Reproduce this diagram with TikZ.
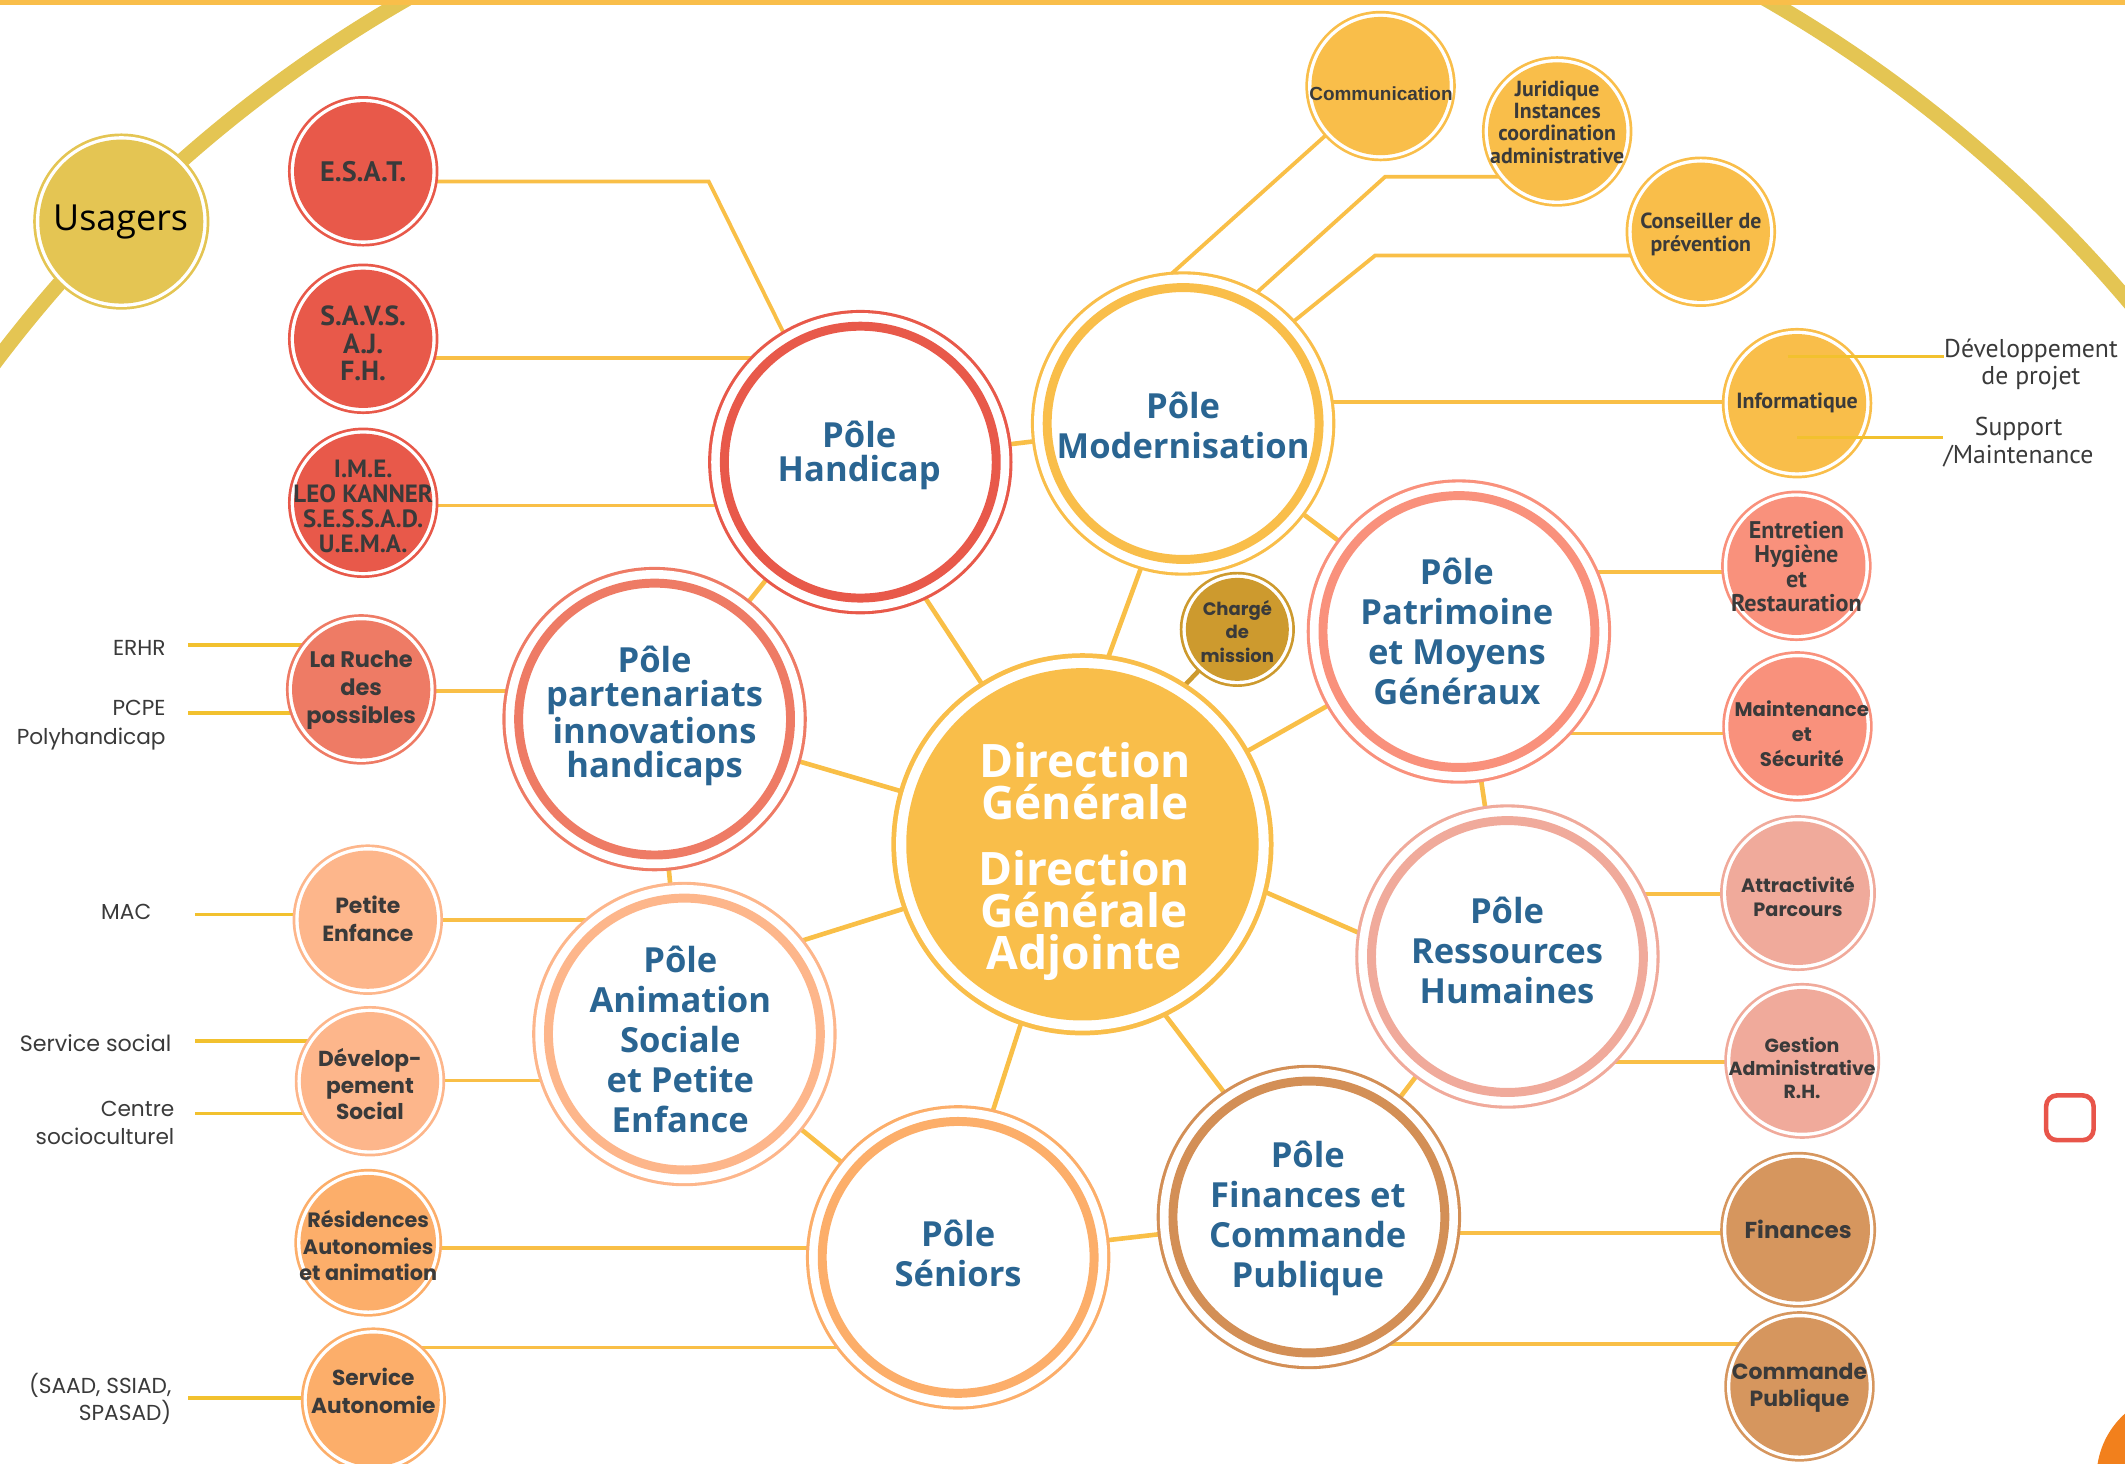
\documentclass[tikz,border=0pt]{standalone}
\usepackage{fontspec}
\usepackage{tikz}
\usetikzlibrary{backgrounds}
\setmainfont{Open Sans}
\newfontfamily\opensans{Open Sans}
\newfontfamily\popfont{Poppins}
\newfontfamily\ptfont{PT Sans}
\newfontfamily\arialfont{Liberation Sans}

\definecolor{linkyel}{HTML}{F9BF47}
\definecolor{labyel}{HTML}{F2C12E}
\definecolor{arcyel}{HTML}{E4C553}
\definecolor{modyel}{HTML}{F9BE4A}
\definecolor{hndred}{HTML}{E8594A}
\definecolor{partred}{HTML}{EE7B65}
\definecolor{animpch}{HTML}{FDB68B}
\definecolor{senorg}{HTML}{FCAE6A}
\definecolor{patsal}{HTML}{F9917C}
\definecolor{rhpink}{HTML}{F0AA9B}
\definecolor{fintan}{HTML}{D38F56}
\definecolor{finleaf}{HTML}{D6965E}
\definecolor{chargebrown}{HTML}{CD9A2E}
\definecolor{poleblue}{HTML}{2A6592}
\definecolor{txtgrey}{HTML}{3A3A3A}
\definecolor{boxred}{HTML}{E8554A}
\definecolor{blob}{HTML}{F2801C}

\tikzset{
  pole/.style={circle, inner sep=0pt, minimum size=100.3pt, fill=white, draw=#1, line width=3.3pt,
    preaction={draw=#1, line width=12pt}, preaction={draw=white, line width=9.7pt}},
  leaf/.style={circle, inner sep=0pt, minimum size=51pt, fill=#1,
    preaction={draw=#1, line width=4.5pt}, preaction={draw=white, line width=2.5pt}},
  dg/.style={circle, inner sep=0pt, minimum size=130pt, fill=modyel,
    preaction={draw=modyel, line width=11pt}, preaction={draw=white, line width=7.5pt}},
  poletxt/.style={text=poleblue, align=center, inner sep=0pt, font=\opensans\bfseries\fontsize{12.75pt}{#1}\selectfont},
  poletxt/.default=14.75pt,
  ptxt/.style 2 args={text=txtgrey, align=center, inner sep=0pt, font=\ptfont\bfseries\fontsize{#1}{#2}\selectfont},
  mtxt/.style 2 args={text=txtgrey, align=center, inner sep=0pt, font=\popfont\bfseries\fontsize{#1}{#2}\selectfont},
  sidetxt/.style 2 args={text=txtgrey, align=right, anchor=east, inner sep=0pt, font=\popfont\fontsize{#1}{#2}\selectfont},
  dgtxt/.style={text=white, align=center, inner sep=0pt, font=\opensans\bfseries\fontsize{17pt}{15.5pt}\selectfont},
  link/.style={draw=linkyel, line width=1.7pt},
  sublink/.style={draw=linkyel, line width=1.4pt},
  labline/.style={draw=labyel, line width=1.3pt},
}

\begin{document}
\begin{tikzpicture}[x=0.5pt,y=0.5pt,yscale=-1,xscale=1]
%set diagram left start at 0, and has height of 1080
\useasboundingbox (0,0) rectangle (1568,1080);

%Shape: Circle -- poles
\node[pole=hndred] (handicap) at (634.8,341) {};
\node[pole=modyel] (modern) at (873,312.5) {};
\node[pole=partred] (parten) at (483,530.6) {};
\node[pole=animpch] (anim) at (505,763) {};
\node[pole=senorg] (sen) at (707,927.8) {};
\node[pole=patsal] (patri) at (1076.5,466) {};
\node[pole=rhpink] (rh) at (1112.3,705.8) {};
\node[pole=fintan] (fin) at (965.8,898) {};
\node[dg] (dg) at (798.7,623) {};

%Shape: Circle -- services
\node[leaf=arcyel, minimum size=60.5pt] (usagers) at (89.5,163.5) {};
\node[leaf=hndred] (esat) at (268,126.4) {};
\node[leaf=hndred] (savs) at (268,250) {};
\node[leaf=hndred] (ime) at (268,371) {};
\node[leaf=modyel] (comm) at (1018.7,63.5) {};
\node[leaf=modyel] (jur) at (1149,97) {};
\node[leaf=modyel] (cons) at (1255,171) {};
\node[leaf=modyel] (info) at (1326,297.5) {};
\node[leaf=chargebrown, minimum size=38pt] (charge) at (913,464.4) {};
\node[leaf=partred] (ruche) at (266.5,508.7) {};
\node[leaf=animpch] (petite) at (271.4,678.6) {};
\node[leaf=animpch] (devsoc) at (273,797.8) {};
\node[leaf=senorg, minimum size=50pt] (resid) at (271.7,917) {};
\node[leaf=senorg, minimum size=49pt] (servauto) at (275.5,1033) {};
\node[leaf=patsal] (entr) at (1325.5,417.5) {};
\node[leaf=patsal] (maint) at (1326.3,536) {};
\node[leaf=rhpink, minimum size=53pt] (attr) at (1326.7,659) {};
\node[leaf=rhpink, minimum size=53pt] (gest) at (1329.8,782.8) {};
\node[leaf=finleaf, minimum size=53pt] (finl) at (1326.8,907.4) {};
\node[leaf=finleaf] (cmd) at (1327.8,1023) {};

%Shape: Rectangle
\node[draw=boxred, line width=1.7pt, rounded corners=4pt, minimum width=17.5pt, minimum height=16.5pt, inner sep=0pt] (rbox) at (1527.3,824.8) {};
%Shape: Circle
\fill[blob] (1610,1090) circle[radius=63];

\begin{pgfonlayer}{background}
%Arc
\draw[arcyel, line width=5.5pt] (801.5,874) circle[radius=1008];
\fill[modyel] (0,0) rectangle (1568,3.5);
%Straight Lines -- poles
\draw[link] (handicap) -- (modern);
\draw[link] (modern.-106.6) -- (dg.83);
\draw[link] (handicap.-65) -- (dg.122);
\draw[link] (handicap) -- (parten);
\draw[link] (parten) -- (dg);
\draw[link] (parten) -- (anim);
\draw[link] (anim.40) -- (dg.200);
\draw[link] (anim) -- (sen);
\draw[link] (sen.77) -- (dg.-109);
\draw[link] (modern) -- (patri);
\draw[link] (patri) -- (dg);
\draw[link] (patri) -- (rh);
\draw[link] (dg.-14) -- (rh.172);
\draw[link] (rh) -- (fin);
\draw[link] (dg.-65) -- (fin.124);
\draw[link] (sen) -- (fin);
\draw[link, draw=chargebrown] (charge.-133) -- (dg.58);
%Straight Lines -- services
\coordinate (esat-k) at (523,134);
\draw[sublink] (esat |- esat-k) -- (esat-k) -- (handicap.121);
\draw[sublink] (savs |- 0,264) -- (handicap |- 0,264);
\draw[sublink] (ime |- 0,373) -- (handicap |- 0,373);
\draw[sublink] (comm) -- (modern.100);
\coordinate (jur-k) at (1022,130.5);
\draw[sublink] (jur |- jur-k) -- (jur-k) -- (modern.62);
\coordinate (cons-k) at (1014.6,188.6);
\draw[sublink] (cons |- cons-k) -- (cons-k) -- (modern.43);
\draw[sublink] (info |- 0,296.5) -- (modern |- 0,296.5);
\draw[sublink] (ruche |- 0,510) -- (parten |- 0,510);
\draw[sublink] (petite |- 0,679) -- (anim |- 0,679);
\draw[sublink] (devsoc |- 0,797.3) -- (anim |- 0,797.3);
\draw[sublink] (resid |- 0,921) -- (sen |- 0,921);
\draw[sublink] (servauto |- 0,994.3) -- (sen |- 0,994.3);
\draw[sublink] (entr |- 0,421.8) -- (patri |- 0,421.8);
\draw[sublink] (maint |- 0,541.3) -- (patri |- 0,541.3);
\draw[sublink] (attr |- 0,659.6) -- (rh |- 0,659.6);
\draw[sublink] (gest |- 0,783.5) -- (rh |- 0,783.5);
\draw[sublink] (finl |- 0,910) -- (fin |- 0,910);
\draw[sublink] (cmd |- 0,991.7) -- (fin |- 0,991.7);
%Straight Lines -- side labels
\coordinate (erhr-a) at (139,476);
\draw[labline] (erhr-a) -- (erhr-a -| ruche);
\coordinate (pcpe-a) at (139,526);
\draw[labline] (pcpe-a) -- (pcpe-a -| ruche);
\coordinate (mac-a) at (144,674.7);
\draw[labline] (mac-a) -- (mac-a -| petite);
\coordinate (soc-a) at (144,768);
\draw[labline] (soc-a) -- (soc-a -| devsoc);
\coordinate (ctr-a) at (144,821.8);
\draw[labline] (ctr-a) -- (ctr-a -| devsoc);
\coordinate (saad-a) at (139,1031.6);
\draw[labline] (saad-a) -- (saad-a -| servauto);
\end{pgfonlayer}

% Text Node -- poles
\node[poletxt=12.75pt] (handicap-t) at (634,336) {Pôle\\Handicap};
\node[poletxt] (modern-t) at (873,314) {Pôle\\Modernisation};
\node[poletxt=12.5pt] (parten-t) at (483,528) {Pôle\\partenariats\\innovations\\handicaps};
\node[poletxt] (anim-t) at (502,767) {Pôle\\Animation\\Sociale\\et Petite\\Enfance};
\node[poletxt] (sen-t) at (707,925) {Pôle\\Séniors};
\node[poletxt] (patri-t) at (1075,466) {Pôle\\Patrimoine\\et Moyens\\Généraux};
\node[poletxt] (rh-t) at (1112,701) {Pôle\\Ressources\\Humaines};
\node[poletxt] (fin-t) at (965,899) {Pôle\\Finances et\\Commande\\Publique};
% Text Node -- direction
\node[dgtxt] (dg-a) at (800.6,576.5) {Direction\\Générale};
\node[dgtxt] (dg-b) at (800,675.5) {Direction\\Générale\\Adjointe};
% Text Node -- services
\node[text=black, inner sep=0pt, font=\opensans\fontsize{13.25pt}{15pt}\selectfont] (usagers-t) at (89,164) {Usagers};
\node[ptxt={10.4pt}{10pt}] (esat-t) at (268,127) {E.S.A.T.};
\node[ptxt={10.2pt}{10.15pt}] (savs-t) at (268,253.5) {S.A.V.S.\\A.J.\\F.H.};
\node[ptxt={9.2pt}{9.2pt}] (ime-t) at (268,373.5) {I.M.E.\\LEO KANNER\\S.E.S.S.A.D.\\U.E.M.A.};
\node[text=txtgrey, inner sep=0pt, font=\arialfont\bfseries\fontsize{7pt}{9pt}\selectfont] (comm-t) at (1019,69) {Communication};
\node[ptxt={8.05pt}{8.25pt}] (jur-t) at (1149,90) {Juridique\\Instances\\coordination\\administrative};
\node[ptxt={8.05pt}{8.2pt}] (cons-t) at (1255,173) {Conseiller de\\prévention};
\node[ptxt={8.1pt}{9pt}] (info-t) at (1326,297) {Informatique};
\node[mtxt={6.65pt}{8.7pt}] (charge-t) at (913,466) {Chargé\\de\\mission};
\node[mtxt={8.3pt}{10.3pt}] (ruche-t) at (266.5,509.5) {La Ruche\\des\\possibles};
\node[mtxt={8.1pt}{10.1pt}] (petite-t) at (271.4,678) {Petite\\Enfance};
\node[mtxt={8pt}{9.7pt}] (devsoc-t) at (273,800) {Dévelop-\\pement\\Social};
\node[mtxt={7.65pt}{9.7pt}] (resid-t) at (271.7,919) {Résidences\\Autonomies\\et animation};
\node[mtxt={8pt}{10.3pt}] (servauto-t) at (275.5,1026) {Service\\Autonomie};
\node[ptxt={8.9pt}{9pt}] (entr-t) at (1325.5,418) {Entretien\\Hygiène\\et\\Restauration};
\node[mtxt={7.25pt}{9.1pt}] (maint-t) at (1329.5,541.5) {Maintenance\\et\\Sécurité};
\node[mtxt={7.1pt}{8.6pt}] (attr-t) at (1326.7,661.5) {Attractivité\\Parcours};
\node[mtxt={7pt}{8.6pt}] (gest-t) at (1329.7,788) {Gestion\\Administrative\\R.H.};
\node[mtxt={8.5pt}{10pt}] (finl-t) at (1326.8,907) {Finances};
\node[mtxt={8.1pt}{10.1pt}] (cmd-t) at (1327.8,1024) {Commande\\Publique};
% Text Node -- side labels
\node[sidetxt={8pt}{10.8pt}] (erhr) at (122.6,478) {ERHR};
\node[sidetxt={8pt}{10.8pt}] (pcpe) at (122.6,535) {PCPE\\Polyhandicap};
\node[sidetxt={8pt}{10.8pt}] (mac) at (112,673) {MAC};
\node[sidetxt={8.2pt}{10.8pt}] (soc) at (126.8,769.5) {Service social};
\node[sidetxt={8pt}{10.25pt}] (ctr) at (129,828.5) {Centre\\socioculturel};
\node[sidetxt={8pt}{9.9pt}] (saad) at (126.8,1032) {(SAAD, SSIAD,\\SPASAD)};
\node[text=txtgrey, align=center, inner sep=0pt, font=\ptfont\fontsize{9.5pt}{10.25pt}\selectfont] (devp) at (1498.6,269) {Développement\\de projet};
\node[text=txtgrey, align=center, inner sep=0pt, font=\ptfont\fontsize{9.5pt}{10.4pt}\selectfont] (supp) at (1489.5,326.5) {Support\\/Maintenance};
%Straight Lines -- informatique
\coordinate (devp-a) at (1319,263);
\draw[labline] (devp-a) -- (devp-a -| devp.west);
\coordinate (supp-a) at (1326,322.8);
\draw[labline] (supp-a) -- (supp-a -| supp.west);
\end{tikzpicture}
\end{document}
